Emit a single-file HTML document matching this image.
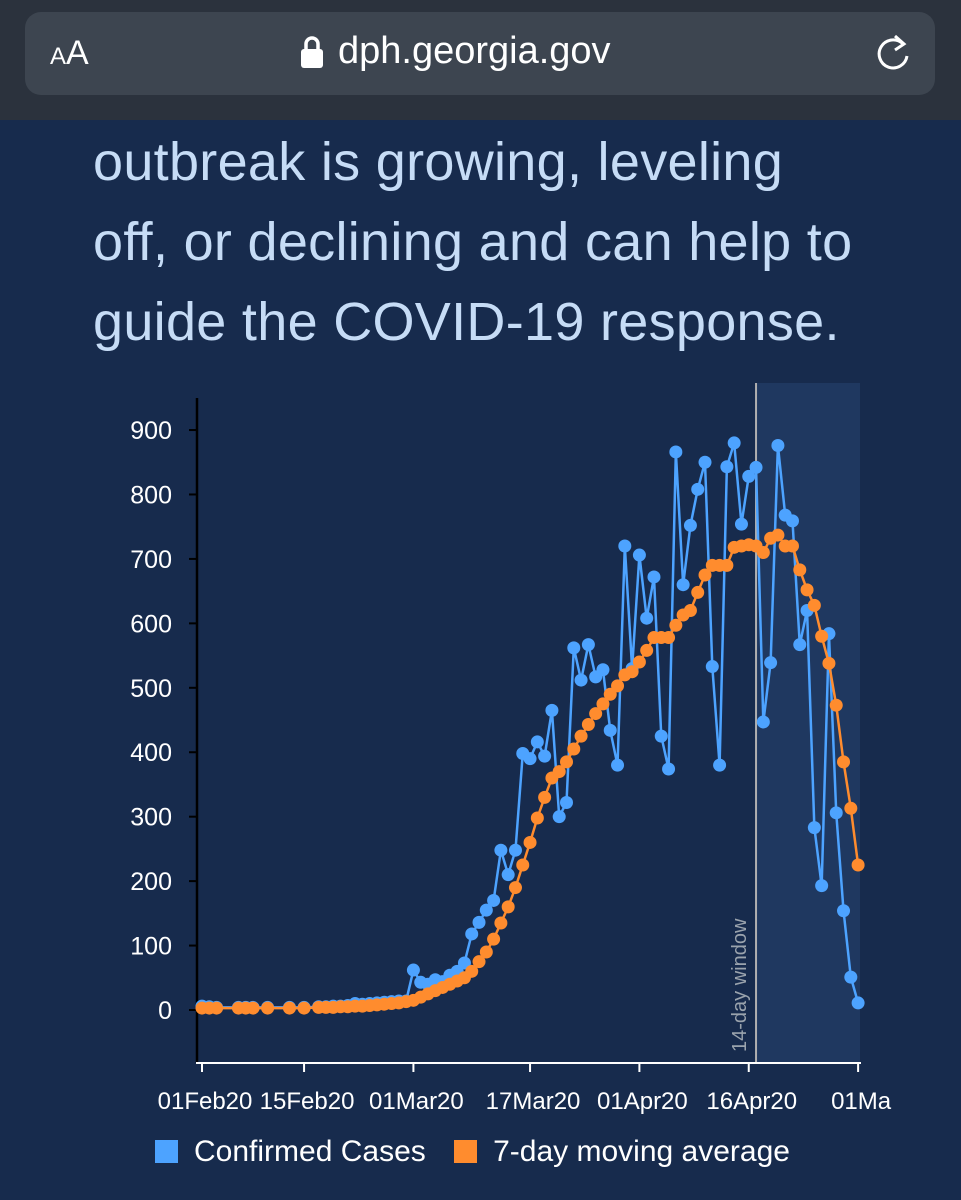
<!DOCTYPE html>
<html><head><meta charset="utf-8"><style>
body{margin:0;width:961px;height:1200px;overflow:hidden;background:#172b4d;font-family:"Liberation Sans",sans-serif;}
#bar{position:absolute;left:0;top:0;width:961px;height:120px;background:#2b323d;}
#pill{position:absolute;left:25px;top:12px;width:910px;height:83px;border-radius:16px;background:#3d4550;}
.para{position:absolute;left:93px;color:#c6dcf6;font-size:54px;letter-spacing:0.3px;white-space:nowrap;}
</style></head><body>
<div id="bar">
 <div id="pill">
  <span style="position:absolute;left:25px;top:22px;color:#fff;font-size:34px;"><span style="font-size:24px">A</span>A</span>
  <svg style="position:absolute;left:274px;top:22px" width="26" height="36"><rect x="2" y="15" width="22" height="19" rx="3" fill="#fff"/><path d="M7 15 V10 a6 6 0 0 1 12 0 V15" stroke="#fff" stroke-width="3.5" fill="none"/></svg>
  <span style="position:absolute;left:313px;top:18px;color:#fff;font-size:38px;">dph.georgia.gov</span>
  <svg style="position:absolute;left:848px;top:20px" width="40" height="42"><path d="M30 12 A14 14 0 1 0 34 24" stroke="#fff" stroke-width="3" fill="none"/><path d="M22 4 L31 12 L22 18" stroke="#fff" stroke-width="3" fill="none"/></svg>
 </div>
</div>
<div class="para" style="top:131px">outbreak is growing, leveling</div>
<div class="para" style="top:211px">off, or declining and can help to</div>
<div class="para" style="top:291px">guide the COVID-19 response.</div>
<svg id="chart" width="961" height="1200" style="position:absolute;left:0;top:0"></svg>
<script>
const earlyDays=[0,1,2,5,6,7,9,12,14,16,17,18,19,20,21,22,23,24,25,26,27,28];
const earlyCases=[6,5,4,4,4,4,4,4,4,5,5,6,6,7,10,9,10,11,12,13,14,14];
const earlyAvg=[3,3,3,3,3,3,3,3,3,4,4,4,5,5,6,6,7,8,9,10,11,13];
const cases=[62,43,40,47,44,54,60,73,118,136,155,170,248,210,248,398,390,416,394,465,300,322,562,512,567,517,528,434,380,720,530,706,608,672,425,374,866,660,752,808,850,533,380,843,880,754,828,842,447,539,876,768,759,567,620,283,193,584,306,154,51,11];
const avg=[15,20,25,30,35,40,45,50,60,75,90,110,135,160,190,225,260,298,330,360,370,385,405,425,443,460,475,490,503,520,525,540,558,578,578,578,597,613,620,648,675,690,690,690,718,720,722,720,710,732,737,720,720,683,652,628,580,538,473,385,313,225];
const yTicks=[0,100,200,300,400,500,600,700,800,900];
const xTickDays=[0,14,29,45,60,75,90];
const xTickLabels=["01Feb20","15Feb20","01Mar20","17Mar20","01Apr20","16Apr20","01Ma"];
const startMar=29, windowDay=76;
const X=d=>202+d*7.29, Y=v=>1010-v*0.6444;
const svg=document.getElementById('chart');const NS="http://www.w3.org/2000/svg";
function mk(t,a,p){const e=document.createElementNS(NS,t);for(const k in a)e.setAttribute(k,a[k]);(p||svg).appendChild(e);return e;}
let r=mk('rect',{x:X(windowDay),y:383,width:860-X(windowDay),height:680,fill:'#1f3860'});

let vl=mk('line',{x1:X(windowDay),x2:X(windowDay),y1:383,y2:1063,stroke:'#b0b0b0','stroke-width':2});

let wt=mk('text',{x:0,y:0,fill:'#9aa3ad','font-size':20,transform:`translate(${X(windowDay)-10},1052) rotate(-90)`});wt.textContent='14-day window';

yTicks.forEach(v=>{let t=mk('text',{x:172,y:Y(v)+9,fill:'#fff','font-size':25,'text-anchor':'end'});t.textContent=v;

mk('line',{x1:189,x2:197,y1:Y(v),y2:Y(v),stroke:'#000','stroke-width':2});});
let ya=mk('line',{x1:197,x2:197,y1:398,y2:1063,stroke:'#000','stroke-width':2.5});

let xa=mk('line',{x1:196,x2:861,y1:1063,y2:1063,stroke:'#fff','stroke-width':2});

xTickDays.forEach((d,i)=>{mk('line',{x1:X(d),x2:X(d),y1:1063,y2:1072,stroke:'#fff','stroke-width':2});
let t=mk('text',{x:X(d)+3,y:1109,fill:'#fff','font-size':24,'text-anchor':'middle'});t.textContent=xTickLabels[i];
});
function series(days,vals,col,name){const pts=days.map((d,i)=>X(d)+','+Y(vals[i])).join(' ');
let g=mk('g',{});
mk('polyline',{points:pts,fill:'none',stroke:col,'stroke-width':2.5},g);
days.forEach((d,i)=>{let c=mk('circle',{cx:X(d),cy:Y(vals[i]),r:6.5,fill:col},g);});}
const mainDays=cases.map((_,i)=>startMar+i);
series(earlyDays.concat(mainDays),earlyCases.concat(cases),'#4da3ff','confirmed-cases');
series(earlyDays.concat(mainDays),earlyAvg.concat(avg),'#ff8c2e','moving-average');
</script>
<div style="position:absolute;left:155px;top:1135px;color:#fff;font-size:30px;white-space:nowrap">
 <span><span style="display:inline-block;width:23px;height:23px;background:#4da3ff;vertical-align:-2px;margin-right:16px"></span>Confirmed Cases</span>
 <span style="margin-left:20px"><span style="display:inline-block;width:23px;height:23px;background:#ff8c2e;vertical-align:-2px;margin-right:16px"></span>7-day moving average</span>
</div>
</body></html>
